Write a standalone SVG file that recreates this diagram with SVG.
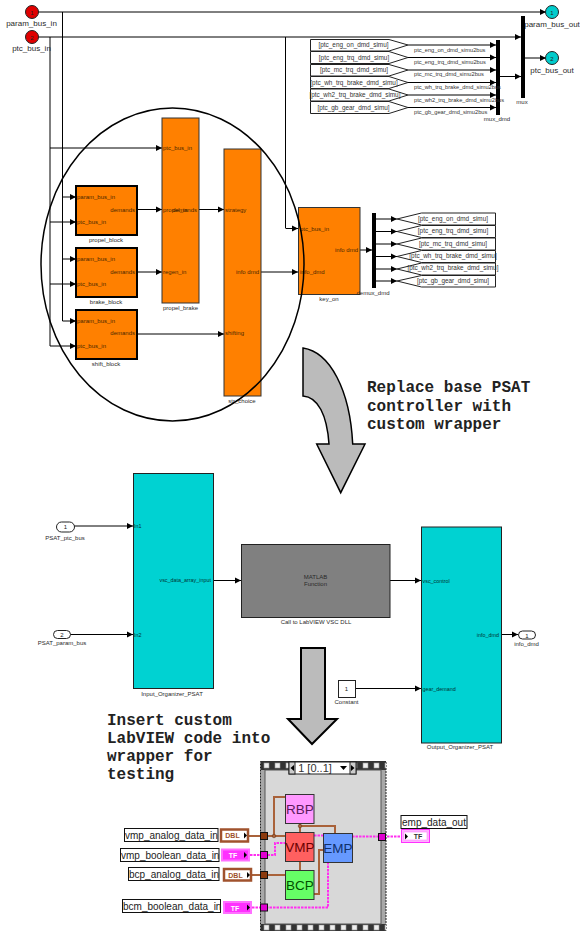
<svg xmlns="http://www.w3.org/2000/svg" width="580" height="932" viewBox="0 0 580 932">
<defs>
<marker id="ah" markerUnits="userSpaceOnUse" markerWidth="7" markerHeight="7" refX="6" refY="3.500" orient="auto"><path d="M0 .5L6 3.500L0 6.500Z" fill="#000"/></marker>
<pattern id="film" x="261" y="761" width="11" height="10" patternUnits="userSpaceOnUse"><rect width="11" height="10" fill="#333"/><rect x="3" y="2" width="5" height="5" fill="#eee" stroke="#999" stroke-width=".6"/></pattern>
<pattern id="filmb" x="261" y="924" width="11" height="7" patternUnits="userSpaceOnUse"><rect width="11" height="7" fill="#333"/><rect x="3" y="1" width="5" height="5" fill="#eee" stroke="#999" stroke-width=".6"/></pattern>
</defs>
<style>
text{font-family:"Liberation Sans",Arial,sans-serif;fill:#333}
.tg{font-size:6.400px;text-anchor:middle;fill:#333}
.sl{font-size:5.700px;fill:#333}
.n{font-size:6px;text-anchor:middle;fill:#222}
.p{font-size:6px;fill:#4a2800}
.c{font-size:5.400px;fill:#033}
.bl{font-size:6px;text-anchor:middle;fill:#2a2a2a}
.big{font-size:8px;text-anchor:middle;fill:#2a2a2a}
.w{fill:none;stroke:#000;stroke-width:1;marker-end:url(#ah)}
.b{fill:none;stroke:#000;stroke-width:1}
.o{fill:#ff8000;stroke:#333;stroke-width:1}
.ot{fill:#ff8000;stroke:#000;stroke-width:2}
.t{fill:#00d2d2;stroke:#222;stroke-width:1}
.tag{fill:#fff;stroke:#222;stroke-width:1}
.bar{fill:#000}
.m{font-family:"Liberation Mono",monospace;font-size:16px;font-weight:bold;fill:#222}
.lbl{fill:#fff;stroke:#111;stroke-width:1}
.lt{font-size:10px;fill:#222}
.vi{font-size:13.500px;text-anchor:middle}
.br{fill:none;stroke:#a9623a;stroke-width:2}
.pk{fill:none;stroke:#ff2ff0;stroke-width:2;stroke-dasharray:2.500 1}
.tb{fill:#fff;stroke:#a0522d;stroke-width:2.500}
.tt{font-size:7px;font-weight:bold;text-anchor:middle;fill:#a0522d}
.pb{fill:#ff30ff;stroke:#ff70ff;stroke-width:2}
.pt{font-size:7px;font-weight:bold;text-anchor:middle;fill:#fff}
</style>
<g id="connectors">
<path class="w" d="M38 12H546"/>
<path class="w" d="M38 37H521"/>
<path class="b" d="M62.500 12V321"/>
<path class="b" d="M50 37V346"/>
<path class="b" d="M285.500 37V228"/>
<path class="w" d="M50 148H162"/>
<path class="w" d="M62.500 197H76"/>
<path class="w" d="M50 222H76"/>
<path class="w" d="M62.500 259H76"/>
<path class="w" d="M50 284H76"/>
<path class="w" d="M62.500 321H76"/>
<path class="w" d="M50 346H76"/>
<path class="w" d="M137 209.500H162"/>
<path class="w" d="M137 272H162"/>
<path class="w" d="M199 209.500H224"/>
<path class="w" d="M137 334H224"/>
<path class="w" d="M285.500 228.500H298"/>
<path class="w" d="M261 272H298"/>
<path class="w" d="M360 250H372"/>
<path class="w" d="M376 219H397"/>
<path class="w" d="M376 231.500H397"/>
<path class="w" d="M376 244H397"/>
<path class="w" d="M376 256.500H397"/>
<path class="w" d="M376 269H397"/>
<path class="w" d="M376 281H397"/>
<path class="w" d="M408 45H496"/>
<path class="w" d="M408 57.500H496"/>
<path class="w" d="M408 70H496"/>
<path class="w" d="M408 82.500H496"/>
<path class="w" d="M408 95H496"/>
<path class="w" d="M408 107.500H496"/>
<path class="w" d="M500 76.500H521"/>
<path class="w" d="M525 58H546"/>
<path class="w" d="M74 526H133"/>
<path class="w" d="M70 634.500H133"/>
<path class="w" d="M213 580.500H241"/>
<path class="w" d="M390 580.500H421"/>
<path class="w" d="M356 688.500H421"/>
<path class="w" d="M501 634.500H518"/>
</g>
<g id="param_bus_in"><circle cx="32" cy="12" r="6.500" fill="#e00000" stroke="#222"/><text class="n" x="32" y="14.500">1</text><text class="big" x="31.500" y="26">param_bus_in</text></g>
<g id="ptc_bus_in"><circle cx="32" cy="37" r="6.500" fill="#e00000" stroke="#222"/><text class="n" x="32" y="39.500">2</text><text class="big" x="31.500" y="51">ptc_bus_in</text></g>
<g id="param_bus_out"><circle cx="552" cy="12" r="6.500" fill="#00cccc" stroke="#222"/><text class="n" x="552" y="14.500">1</text><text class="big" x="552" y="26.500">param_bus_out</text></g>
<g id="ptc_bus_out"><circle cx="552" cy="58" r="6.500" fill="#00cccc" stroke="#222"/><text class="n" x="552" y="60.500">2</text><text class="big" x="552" y="73">ptc_bus_out</text></g>
<g id="mux"><rect class="bar" x="521" y="16" width="4" height="82"/><text class="bl" x="522" y="104">mux</text></g>
<g id="mux_dmd"><rect class="bar" x="496" y="40" width="4" height="75"/><text class="bl" x="497" y="121">mux_dmd</text></g>
<g id="froms">
<path class="tag" d="M310.500 39.500H389L408 45L389 51H310.500Z"/><text class="tg" x="353.500" y="47">[ptc_eng_on_dmd_simu]</text>
<path class="tag" d="M310.500 51.500H389L408 57.500L389 63.500H310.500Z"/><text class="tg" x="354" y="59.500">[ptc_eng_trq_dmd_simu]</text>
<path class="tag" d="M310.500 64.500H389L408 70L389 76H310.500Z"/><text class="tg" x="354" y="72">[ptc_mc_trq_dmd_simu]</text>
<path class="tag" d="M310.500 76.500H389L408 82.500L389 88.500H310.500Z"/><text class="tg" x="354" y="84.500">[ptc_wh_trq_brake_dmd_simu]</text>
<path class="tag" d="M310.500 89H389L408 95L389 101H310.500Z"/><text class="tg" x="355" y="97">[ptc_wh2_trq_brake_dmd_simu]</text>
<path class="tag" d="M310.500 101.500H389L408 107.500L389 113.500H310.500Z"/><text class="tg" x="353.500" y="109.500">[ptc_gb_gear_dmd_simu]</text>
<text class="sl" x="414" y="52">ptc_eng_on_dmd_simu2bus</text>
<text class="sl" x="414" y="64">ptc_eng_trq_dmd_simu2bus</text>
<text class="sl" x="414" y="76">ptc_mc_trq_dmd_simu2bus</text>
<text class="sl" x="414" y="89">ptc_wh_trq_brake_dmd_simu2bus</text>
<text class="sl" x="414" y="101.500">ptc_wh2_trq_brake_dmd_simu2bus</text>
<text class="sl" x="414" y="114">ptc_gb_gear_dmd_simu2bus</text>
</g>
<g id="propel_block"><rect class="ot" x="76" y="186" width="61" height="49"/><text class="p" x="77" y="199">param_bus_in</text><text class="p" x="77" y="224">ptc_bus_in</text><text class="p" x="135" y="211.500" text-anchor="end">demands</text><text class="bl" x="106" y="241.500">propel_block</text></g>
<g id="brake_block"><rect class="ot" x="76" y="248" width="61" height="49"/><text class="p" x="77" y="261">param_bus_in</text><text class="p" x="77" y="286">ptc_bus_in</text><text class="p" x="135" y="274" text-anchor="end">demands</text><text class="bl" x="106" y="303.500">brake_block</text></g>
<g id="shift_block"><rect class="ot" x="76" y="310" width="61" height="49"/><text class="p" x="77" y="323">param_bus_in</text><text class="p" x="77" y="348">ptc_bus_in</text><text class="p" x="135" y="335" text-anchor="end">demands</text><text class="bl" x="106" y="365.500">shift_block</text></g>
<g id="propel_brake"><rect class="o" x="162" y="118" width="37" height="185"/><text class="p" x="163" y="150">ptc_bus_in</text><text class="p" x="163" y="211.500">propel_in</text><text class="p" x="197" y="211.500" text-anchor="end">demands</text><text class="p" x="163" y="274">regen_in</text><text class="bl" x="180.500" y="309.500">propel_brake</text></g>
<g id="strategy_choice"><rect class="o" x="224" y="149" width="37" height="247"/><text class="p" x="225" y="211.500">strategy</text><text class="p" x="259" y="274" text-anchor="end">info dmd</text><text class="p" x="225" y="335">shifting</text><text class="bl" x="242" y="403">str_choice</text></g>
<g id="key_on"><rect class="o" x="298.500" y="207.500" width="61.500" height="87"/><text class="p" x="300" y="230.500">ptc_bus_in</text><text class="p" x="300" y="274">info_dmd</text><text class="p" x="358" y="252" text-anchor="end">info dmd</text><text class="bl" x="329" y="301">key_on</text></g>
<ellipse id="circle" cx="172.500" cy="264.500" rx="131.500" ry="156.500" fill="none" stroke="#000" stroke-width="1.500"/>
<g id="demux_dmd"><rect class="bar" x="372" y="213" width="4" height="75"/><text class="bl" x="373" y="295">demux_dmd</text></g>
<g id="gotos">
<path class="tag" d="M397 219L421.500 213H495.500V225H421.500Z"/><text class="tg" x="453" y="221">[ptc_eng_on_dmd_simu]</text>
<path class="tag" d="M397 231.500L421.500 225.500H495.500V237.500H421.500Z"/><text class="tg" x="453" y="233">[ptc_eng_trq_dmd_simu]</text>
<path class="tag" d="M397 244L421.500 238H495.500V250H421.500Z"/><text class="tg" x="453" y="246">[ptc_mc_trq_dmd_simu]</text>
<path class="tag" d="M397 256.500L421.500 250.500H495.500V262.500H421.500Z"/><text class="tg" x="453" y="258">[ptc_wh_trq_brake_dmd_simu]</text>
<path class="tag" d="M397 269L421.500 263H495.500V275H421.500Z"/><text class="tg" x="453" y="270">[ptc_wh2_trq_brake_dmd_simu]</text>
<path class="tag" d="M397 281L421.500 275.500H495.500V287H421.500Z"/><text class="tg" x="453" y="283">[ptc_gb_gear_dmd_simu]</text>
</g>
<path id="curved_arrow" d="M303 348C330 352 350 390 352.700 444H365L340.700 492.700L316.700 444H329C327 415 318 397 303 396Z" fill="#bbb" stroke="#000" stroke-width="1.500"/>
<g id="note1"><text class="m" x="367" y="392">Replace base PSAT</text><text class="m" x="367" y="411">controller with</text><text class="m" x="367" y="429">custom wrapper</text></g>
<g id="PSAT_ptc_bus"><rect class="tag" x="56.500" y="522" width="18" height="10" rx="5"/><text class="n" x="65.500" y="529">1</text><text class="bl" x="65" y="539.500">PSAT_ptc_bus</text></g>
<g id="PSAT_param_bus"><rect class="tag" x="53.500" y="630.500" width="17" height="8" rx="4"/><text class="n" x="62" y="637">2</text><text class="bl" x="62" y="645">PSAT_param_bus</text></g>
<g id="Input_Organizer_PSAT"><rect class="t" x="133.500" y="473.500" width="80" height="215"/><text class="c" x="134" y="528">In1</text><text class="c" x="134" y="636.500">In2</text><text class="c" x="211" y="582" text-anchor="end">vsc_data_array_input</text><text class="bl" x="172" y="695.500">Input_Organizer_PSAT</text></g>
<g id="matlab"><rect x="241.500" y="544.500" width="148.500" height="73" fill="#808080" stroke="#222"/><text class="bl" x="315.500" y="579">MATLAB</text><text class="bl" x="315.500" y="586">Function</text><text class="bl" x="316" y="624">Call to LabVIEW VSC DLL</text></g>
<g id="Output_Organizer_PSAT"><rect class="t" x="421.500" y="527" width="80" height="216"/><text class="c" x="422.500" y="582.500">vsc_control</text><text class="c" x="499" y="636.500" text-anchor="end">info_dmd</text><text class="c" x="422.500" y="690.500">gear_demand</text><text class="bl" x="460" y="749">Output_Organizer_PSAT</text></g>
<g id="info_dmd"><rect class="tag" x="518.500" y="631" width="17" height="8" rx="4"/><text class="n" x="527" y="637.500">1</text><text class="bl" x="526.500" y="645.500">info_dmd</text></g>
<g id="constant"><rect class="tag" x="338.500" y="680.500" width="17" height="17"/><text class="n" x="346.500" y="690.500">1</text><text class="bl" x="346.500" y="704">Constant</text></g>
<path id="down_arrow" d="M301 648H325V719H337L312 744L288 719H301Z" fill="#bbb" stroke="#000" stroke-width="2"/>
<g id="note2"><text class="m" x="107" y="725">Insert custom</text><text class="m" x="107" y="743">LabVIEW code into</text><text class="m" x="107" y="761">wrapper for</text><text class="m" x="107" y="779">testing</text></g>
<g id="case_frame"><rect x="260.500" y="761.500" width="125.500" height="169" fill="#a8a8a8" stroke="#222" stroke-dasharray="2 1"/><rect x="261" y="761" width="125" height="9" fill="url(#film)"/><rect x="261" y="924" width="125" height="7" fill="url(#filmb)"/><rect x="265" y="770" width="116" height="154" fill="#d8d8d8" stroke="#555"/></g>
<g id="selector"><rect x="289" y="762" width="67" height="12" fill="#fff" stroke="#222"/><rect x="289" y="762" width="6" height="12" fill="#ccc" stroke="#222"/><rect x="350" y="762" width="6" height="12" fill="#ccc" stroke="#222"/><path d="M290.500 768L294 765V771ZM354.500 768L351 765V771Z" fill="#000"/><text x="315" y="772" font-size="11" text-anchor="middle" fill="#222">1 [0..1]</text><path d="M340 766H347L343.500 770Z" fill="#000"/></g>
<g id="wires">
<path class="br" d="M249 836H285M274 836V797H285"/>
<path class="br" d="M252 875H285"/>
<path class="pk" d="M250 855H275V843H285"/>
<path class="pk" d="M252 907.500H328V862"/>
<path class="br" d="M300 861V871M300 823V832M300 826H335V833"/>
<path class="br" d="M314 894H319V850H324"/>
<path class="pk" d="M314 835.500H324M352 836.500H401"/>
<circle cx="274" cy="836" r="1.800" fill="#a9623a" stroke="#5a2a10" stroke-width=".5"/>
<circle cx="300" cy="826" r="1.800" fill="#a9623a" stroke="#5a2a10" stroke-width=".5"/>
</g>
<g id="RBP"><rect x="285.500" y="794.500" width="28.500" height="29" fill="#ff99ff" stroke="#333"/><text class="vi" x="300" y="814" style="fill:#5a1a5a">RBP</text></g>
<g id="VMP"><rect x="285.500" y="832.500" width="28.500" height="29" fill="#ff6060" stroke="#333"/><text class="vi" x="300" y="852" style="fill:#6a0000">VMP</text></g>
<g id="BCP"><rect x="285.500" y="870.500" width="28.500" height="29" fill="#66ff66" stroke="#333"/><text class="vi" x="300" y="890" style="fill:#005000">BCP</text></g>
<g id="EMP"><rect x="323.500" y="833.500" width="29" height="29" fill="#6699ff" stroke="#333"/><text class="vi" x="338" y="853" style="fill:#10306a">EMP</text></g>
<g id="tunnels">
<rect x="260.500" y="832.500" width="7" height="7" fill="#8b3a0e" stroke="#111"/>
<rect x="260.500" y="851.500" width="7" height="7" fill="#e000d0" stroke="#111"/>
<rect x="260.500" y="871.500" width="7" height="7" fill="#8b3a0e" stroke="#111"/>
<rect x="260.500" y="904" width="7" height="7" fill="#e000d0" stroke="#111"/>
<rect x="378.500" y="833.500" width="7" height="7" fill="#e000d0" stroke="#111"/>
</g>
<g id="vmp_analog_data_in"><rect class="lbl" x="124.500" y="828.500" width="93.500" height="13"/><text class="lt" x="125" y="838.500">vmp_analog_data_in</text><rect class="tb" x="221" y="829.500" width="27" height="12"/><text class="tt" x="232.500" y="838">DBL</text><path d="M244 832.500L247 835.500L244 838.500Z" fill="#000"/></g>
<g id="vmp_boolean_data_in"><rect class="lbl" x="120.500" y="848.500" width="98.500" height="13"/><text class="lt" x="121" y="858.500">vmp_boolean_data_in</text><rect class="pb" x="222" y="849.500" width="27" height="11"/><text class="pt" x="233" y="858">TF</text><path d="M244 852L247 855L244 858Z" fill="#000"/></g>
<g id="bcp_analog_data_in"><rect class="lbl" x="128.500" y="867.500" width="90.500" height="13"/><text class="lt" x="129" y="877.500">bcp_analog_data_in</text><rect class="tb" x="224" y="869" width="27" height="11.500"/><text class="tt" x="235.500" y="877.500">DBL</text><path d="M247 872L250 875L247 878Z" fill="#000"/></g>
<g id="bcm_boolean_data_in"><rect class="lbl" x="122.500" y="899.500" width="98" height="13"/><text class="lt" x="123" y="909.500">bcm_boolean_data_in</text><rect class="pb" x="224" y="902" width="27" height="11"/><text class="pt" x="235" y="910.500">TF</text><path d="M247 904.500L250 907.500L247 910.500Z" fill="#000"/></g>
<g id="emp_data_out"><rect class="lbl" x="401" y="815.500" width="66" height="13"/><text class="lt" x="402" y="825.500">emp_data_out</text><rect x="401.500" y="829.500" width="28" height="13" fill="#ffb0ff" stroke="#ff30ff"/><rect x="404" y="832" width="23" height="8" fill="#fff" stroke="#ff70ff" stroke-width=".5"/><text x="418" y="839" font-size="7" font-weight="bold" text-anchor="middle" fill="#ff30ff">TF</text><path d="M405 833.500L408 836.500L405 839.500Z" fill="#000"/></g>
</svg>
